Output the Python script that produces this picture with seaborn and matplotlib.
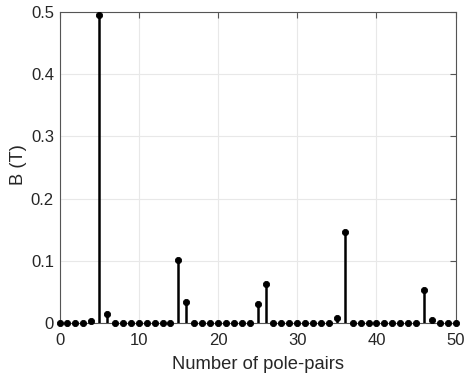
import numpy as np
import pandas as pd
import matplotlib
matplotlib.use("Agg")
import matplotlib.pyplot as plt
import seaborn as sns

pole_pairs = list(range(0, 51))
b_values = [0.0, 0.0, 0.0, 0.0, 0.003, 0.495, 0.0145, 0.0, 0.0, 0.0,
            0.0, 0.0, 0.0, 0.0, 0.0, 0.102, 0.033, 0.0, 0.0, 0.0,
            0.0, 0.0, 0.0, 0.0, 0.0, 0.030, 0.062, 0.0, 0.0, 0.0,
            0.0, 0.0, 0.0, 0.0, 0.0, 0.0076, 0.146, 0.0, 0.0, 0.0,
            0.0, 0.0, 0.0, 0.0, 0.0, 0.0, 0.053, 0.005, 0.0, 0.0, 0.0]
x_ticks = [0, 10, 20, 30, 40, 50]
y_ticks = [0, 0.1, 0.2, 0.3, 0.4, 0.5]
y_tick_labels = ["0", "0.1", "0.2", "0.3", "0.4", "0.5"]

df = pd.DataFrame({"n": pole_pairs, "B": b_values})

sns.set_theme(style="whitegrid")
plt.rcParams['font.family'] = ['Liberation Sans', 'DejaVu Sans']

fig = plt.figure(figsize=(4.65, 3.76), dpi=100)
ax = fig.add_axes([0.128, 0.141, 0.852, 0.827])

ax.vlines(df["n"], 0, df["B"], color="black", linewidth=1.8, zorder=3)
sns.scatterplot(data=df, x="n", y="B", ax=ax, color="black", s=20,
                edgecolor="black", linewidth=0.6, zorder=4, clip_on=False)

ax.set_xlim(0, 50)
ax.set_ylim(0, 0.5)
ax.set_xticks(x_ticks)
ax.set_yticks(y_ticks)
ax.set_yticklabels(y_tick_labels)
ax.set_xlabel("Number of pole-pairs", fontsize=13.2, color="#262626", labelpad=6)
ax.set_ylabel("B (T)", fontsize=13.2, color="#262626")
ax.yaxis.set_label_coords(-0.082, 0.51)
ax.tick_params(axis="both", labelsize=12, labelcolor="#262626", color="#555555",
               direction="in", length=4, width=0.8, pad=4,
               top=True, right=True)
ax.tick_params(axis="x", pad=7)
ax.grid(True, color="#e8e8e8", linewidth=0.8)
for s in ax.spines.values():
    s.set_visible(True)
    s.set_color("#555555")
    s.set_linewidth(0.8)
ax.set_facecolor("white")

fig.savefig("out.png", dpi=100)
